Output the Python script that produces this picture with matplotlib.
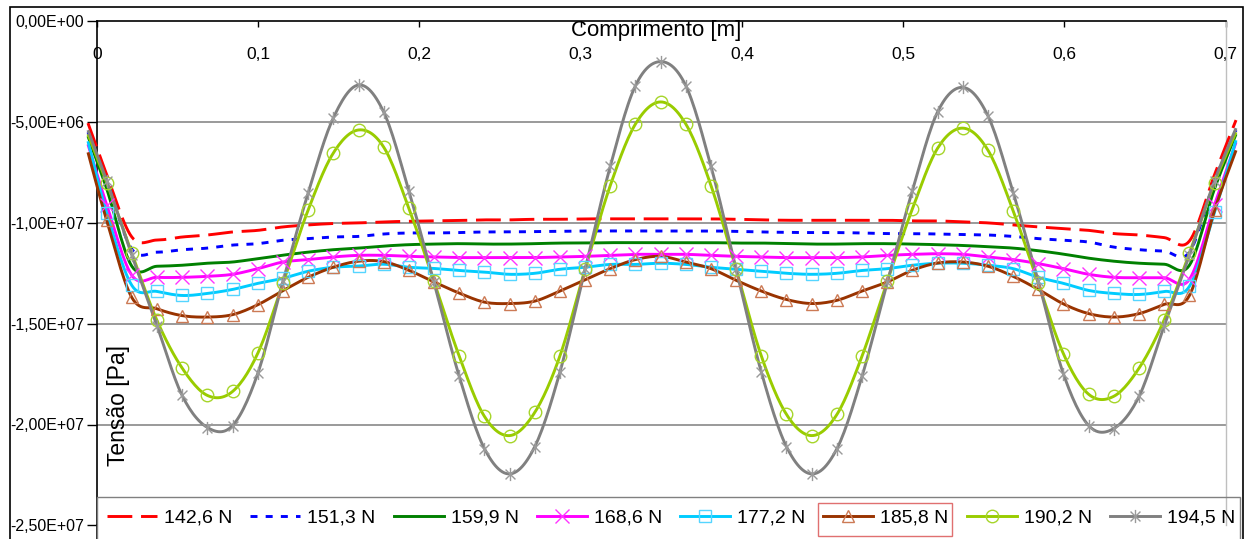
import numpy as np
import matplotlib
matplotlib.use("Agg")
import matplotlib.pyplot as plt
from matplotlib.lines import Line2D
from matplotlib.patches import Rectangle
from matplotlib.path import Path
from matplotlib.ticker import FuncFormatter

plt.rcParams['font.family'] = ['Liberation Sans', 'DejaVu Sans']

# Position along the beam [m]
comprimento = [-0.0056, 0.0060, 0.0216, 0.0372, 0.0528, 0.0685, 0.0841, 0.0997,
               0.1153, 0.1309, 0.1465, 0.1622, 0.1778, 0.1934, 0.2090, 0.2246,
               0.2403, 0.2559, 0.2715, 0.2871, 0.3027, 0.3183, 0.3339, 0.3496,
               0.3652, 0.3808, 0.3964, 0.4120, 0.4276, 0.4433, 0.4589, 0.4745,
               0.4901, 0.5057, 0.5213, 0.5370, 0.5526, 0.5682, 0.5838, 0.5994,
               0.6150, 0.6306, 0.6463, 0.6619, 0.6775, 0.6931, 0.7064]

# Stress [MPa] for each applied load
t_142_6 = [-5.05, -7.6, -10.7, -10.85, -10.7, -10.6, -10.45, -10.37, -10.2, -10.1,
           -10.03, -10.0, -9.95, -9.92, -9.9, -9.88, -9.85, -9.85, -9.82, -9.82,
           -9.8, -9.8, -9.8, -9.8, -9.8, -9.8, -9.82, -9.85, -9.87, -9.87,
           -9.87, -9.87, -9.87, -9.9, -9.9, -9.95, -10.0, -10.1, -10.2, -10.28,
           -10.37, -10.53, -10.6, -10.73, -10.9, -7.6, -4.9]
t_151_3 = [-5.5, -7.9, -11.3, -11.45, -11.33, -11.25, -11.1, -11.03, -10.86, -10.78,
           -10.7, -10.67, -10.55, -10.5, -10.5, -10.48, -10.45, -10.45, -10.43, -10.42,
           -10.4, -10.4, -10.4, -10.4, -10.4, -10.4, -10.42, -10.45, -10.47, -10.48,
           -10.48, -10.5, -10.53, -10.53, -10.55, -10.57, -10.6, -10.67, -10.78, -10.86,
           -10.95, -11.2, -11.33, -11.4, -11.45, -7.9, -5.4]
t_159_9 = [-5.7, -8.3, -12.15, -12.15, -12.1, -12.0, -11.94, -11.77, -11.6, -11.45,
           -11.33, -11.25, -11.15, -11.08, -11.05, -11.03, -11.05, -11.05, -11.03, -11.0,
           -11.0, -10.98, -10.98, -10.98, -10.98, -10.98, -11.0, -11.0, -11.03, -11.05,
           -11.05, -11.03, -11.03, -11.05, -11.08, -11.12, -11.18, -11.25, -11.38, -11.55,
           -11.75, -11.9, -12.0, -12.05, -12.1, -8.3, -5.6]
t_168_6 = [-6.1, -9.1, -12.6, -12.7, -12.7, -12.65, -12.55, -12.27, -11.94, -11.82,
           -11.69, -11.61, -11.61, -11.66, -11.69, -11.72, -11.72, -11.72, -11.72, -11.69,
           -11.66, -11.61, -11.56, -11.56, -11.56, -11.61, -11.66, -11.69, -11.72, -11.72,
           -11.72, -11.69, -11.61, -11.56, -11.53, -11.56, -11.69, -11.82, -12.02, -12.27,
           -12.55, -12.7, -12.72, -12.72, -12.8, -9.1, -6.0]
t_177_2 = [-5.95, -9.5, -13.1, -13.4, -13.6, -13.5, -13.3, -13.0, -12.75, -12.4,
           -12.2, -12.14, -12.05, -12.2, -12.26, -12.36, -12.44, -12.55, -12.5, -12.3,
           -12.2, -12.06, -12.06, -12.0, -12.06, -12.2, -12.3, -12.4, -12.5, -12.55,
           -12.5, -12.36, -12.27, -12.1, -12.0, -12.0, -12.1, -12.27, -12.7, -13.0,
           -13.35, -13.5, -13.55, -13.4, -13.15, -9.46, -5.9]
t_185_8 = [-6.5, -9.87, -13.7, -14.26, -14.6, -14.67, -14.55, -14.06, -13.36, -12.7,
           -12.2, -11.9, -11.92, -12.35, -12.93, -13.48, -13.93, -14.0, -13.88, -13.38,
           -12.82, -12.27, -11.82, -11.66, -11.94, -12.27, -12.85, -13.38, -13.8, -14.0,
           -13.84, -13.38, -12.93, -12.35, -11.99, -11.94, -12.15, -12.65, -13.3, -14.02,
           -14.5, -14.67, -14.5, -14.04, -13.6, -9.37, -6.4]
t_190_2 = [-5.6, -8.0, -11.5, -14.84, -17.2, -18.56, -18.36, -16.47, -13.0, -9.37,
           -6.54, -5.39, -6.24, -9.27, -12.9, -16.6, -19.6, -20.55, -19.4, -16.6,
           -12.3, -8.15, -5.1, -4.0, -5.1, -8.15, -12.3, -16.6, -19.5, -20.55,
           -19.5, -16.6, -12.9, -9.3, -6.3, -5.3, -6.4, -9.4, -13.0, -16.5,
           -18.5, -18.6, -17.2, -14.8, -11.5, -8.0, -5.5]
t_194_5 = [-5.4, -7.9, -11.6, -15.1, -18.56, -20.15, -20.05, -17.47, -12.9, -8.53,
           -4.8, -3.16, -4.5, -8.4, -12.95, -17.6, -21.2, -22.45, -21.1, -17.4,
           -12.3, -7.2, -3.2, -2.0, -3.2, -7.2, -12.3, -17.4, -21.1, -22.45,
           -21.2, -17.6, -12.95, -8.4, -4.5, -3.28, -4.7, -8.5, -12.9, -17.5,
           -20.05, -20.2, -18.6, -15.1, -11.6, -7.9, -5.3]

legend_labels = ['142,6 N', '151,3 N', '159,9 N', '168,6 N',
                 '177,2 N', '185,8 N', '190,2 N', '194,5 N']
x_ticks = [0, 0.1, 0.2, 0.3, 0.4, 0.5, 0.6, 0.7]
y_ticks = [0, -5e6, -1e7, -1.5e7, -2e7, -2.5e7]

MPA = 1e6

# Excel-like star marker: X with a vertical bar
star = Path([(0, -1), (0, 1), (-0.75, -0.75), (0.75, 0.75), (-0.75, 0.75), (0.75, -0.75)],
            [Path.MOVETO, Path.LINETO, Path.MOVETO, Path.LINETO, Path.MOVETO, Path.LINETO])

styles = [
    dict(color='#FF0000', ls=(0, (8.5, 3.0)), marker=None),
    dict(color='#0000FF', ls=(0, (2.4, 2.8)), marker=None),
    dict(color='#008000', ls='-', marker=None),
    dict(color='#FF00FF', ls='-', marker='x', mec='#FF33FF', ms=9.5, mfc='none'),
    dict(color='#00CCFF', ls='-', marker='s', mec='#55D5FF', ms=8, mfc='none'),
    dict(color='#993300', ls='-', marker='^', mec='#CC7A55', ms=9, mfc='none'),
    dict(color='#99CC00', ls='-', marker='o', mec='#A6D52A', ms=9, mfc='none'),
    dict(color='#808080', ls='-', marker=star, mec='#9A9A9A', ms=9.5, mfc='none'),
]
series = [t_142_6, t_151_3, t_159_9, t_168_6, t_177_2, t_185_8, t_190_2, t_194_5]


def smooth_path(xs, ys, n=14):
    """Bezier smoothing through the points (Excel 'smoothed line' style)."""
    pts = np.column_stack([xs, ys]).astype(float)
    P = np.vstack([pts[0], pts, pts[-1]])
    t = np.linspace(0, 1, n, endpoint=False)[:, None]
    segs = []
    for i in range(1, len(P) - 2):
        p0, p1, p2, p3 = P[i - 1], P[i], P[i + 1], P[i + 2]
        b1 = p1 + (p2 - p0) / 6.0
        b2 = p2 - (p3 - p1) / 6.0
        segs.append((1 - t) ** 3 * p1 + 3 * (1 - t) ** 2 * t * b1
                    + 3 * (1 - t) * t ** 2 * b2 + t ** 3 * p2)
    segs.append(pts[-1:])
    c = np.vstack(segs)
    return c[:, 0], c[:, 1]


W, H = 1245, 539
fig = plt.figure(figsize=(W / 100, H / 100), dpi=100)

x0_px, x1_px = 97, 1225.7
ytop_px, ybot_px = 21.3, 525.3
ax = fig.add_axes([x0_px / W, 1 - ybot_px / H, (x1_px - x0_px) / W, (ybot_px - ytop_px) / H])
ax.set_xlim(0, 0.7)
ax.set_ylim(-2.5e7, 0)

# gridlines
for yv in y_ticks[1:-1]:
    ax.axhline(yv, color='#7F7F7F', lw=1.1, zorder=1)

lw = 2.1
handles = []
for vals, st, lab in zip(series, styles, legend_labels):
    yv = np.array(vals) * MPA
    sx, sy = smooth_path(comprimento, yv)
    ax.plot(sx, sy, color=st['color'], ls=st['ls'], lw=lw, clip_on=False,
            zorder=3, solid_capstyle='butt', dash_capstyle='butt')
    if st['marker'] is not None:
        ax.plot(comprimento[1:-1], yv[1:-1], ls='none', marker=st['marker'],
                ms=st['ms'], mec=st['mec'], mfc='none', mew=1.0, clip_on=False, zorder=4)
    handles.append(Line2D([], [], color=st['color'], ls=st['ls'], lw=lw,
                          marker=st['marker'], ms=st.get('ms', 0),
                          mec=st.get('mec', st['color']), mfc='none', mew=1.0,
                          dash_capstyle='butt'))

# axes styling
for side in ['bottom']:
    ax.spines[side].set_visible(False)
ax.spines['right'].set_color('#BFBFBF')
ax.spines['right'].set_linewidth(1.0)
ax.spines['top'].set_color('black')
ax.spines['top'].set_linewidth(1.2)
ax.spines['left'].set_color('black')
ax.spines['left'].set_linewidth(1.2)
ax.plot([0, 0], [0, -0.05], transform=ax.transAxes, color='black', lw=1.2, clip_on=False)

ax.xaxis.set_ticks_position('top')
ax.set_xticks(x_ticks)
ax.set_xticklabels(['0'] + [('%.1f' % v).replace('.', ',') for v in x_ticks[1:]])
ax.tick_params(axis='x', direction='in', length=4, width=1, labelsize=12.5,
               pad=-29, colors='black')

ax.set_yticks(y_ticks)
ax.yaxis.set_major_formatter(FuncFormatter(lambda v, p: ('%.2E' % v).replace('.', ',')))
ax.tick_params(axis='y', direction='out', length=7, width=1, labelsize=11.5, pad=2)

ax.text(0.495, 1 - 9 / (ybot_px - ytop_px), 'Comprimento [m]', transform=ax.transAxes,
        ha='center', va='center', fontsize=16)
ax.text(21 / (x1_px - x0_px), 1 - (405 - ytop_px) / (ybot_px - ytop_px), 'Tensão [Pa]',
        transform=ax.transAxes, rotation=90, ha='center', va='center', fontsize=16.5)

# legend
leg = fig.legend(handles, legend_labels, loc='center left',
                 bbox_to_anchor=(107 / W, 1 - 518 / H), ncol=8, frameon=False,
                 fontsize=14, borderpad=0, borderaxespad=0, handlelength=2.57,
                 handletextpad=0.36, columnspacing=0.93, numpoints=1)

# legend frame and selection box
fig.patches.append(Rectangle((97 / W, -0.05), (1240 - 97) / W, 0.05 + 1 - 497 / H,
                             transform=fig.transFigure, fill=False, ec='#808080', lw=1.0))
fig.patches.append(Rectangle((818 / W, 1 - 536 / H), (952 - 818) / W, (536 - 503) / H,
                             transform=fig.transFigure, fill=False, ec='#E07070', lw=1.0))
# chart border
fig.patches.append(Rectangle((10 / W, -0.05), (1243 - 10) / W, 0.05 + 1 - 7 / H,
                             transform=fig.transFigure, fill=False, ec='black', lw=1.2))

fig.savefig('out.png', dpi=100)
